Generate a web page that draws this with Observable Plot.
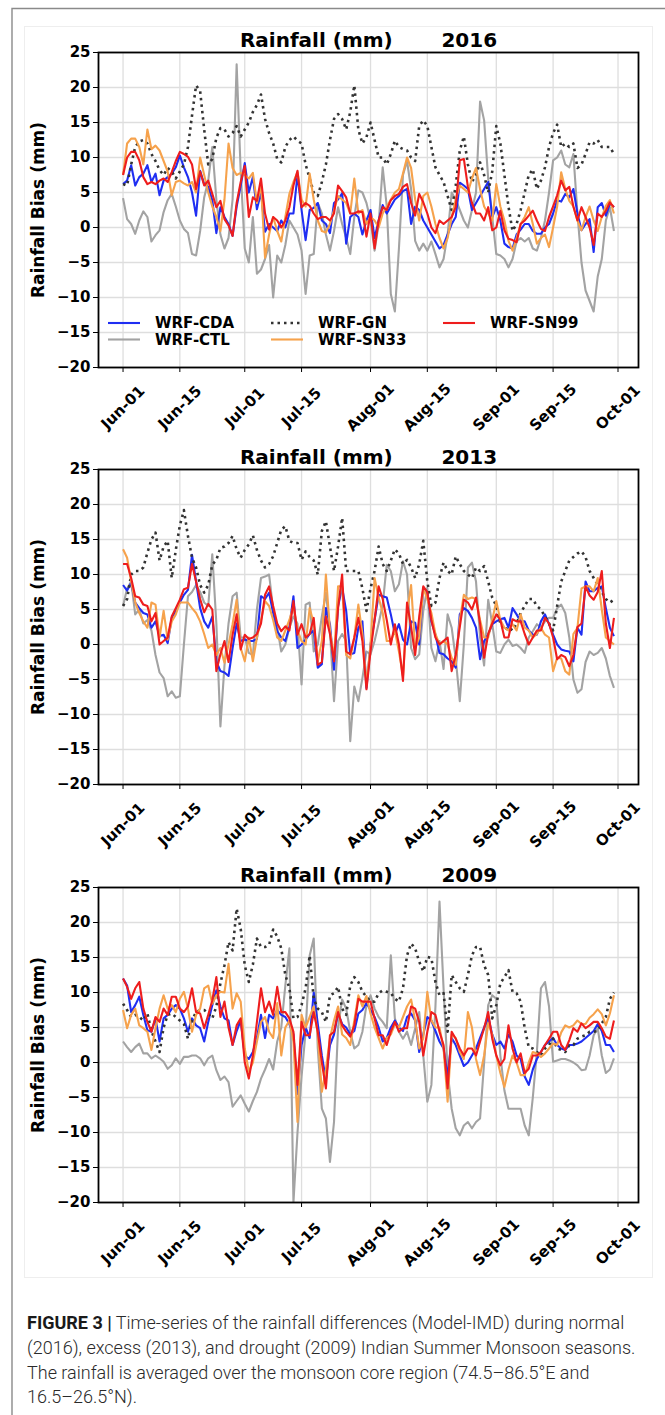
<!DOCTYPE html>
<html><head><meta charset="utf-8">
<script src="https://cdn.jsdelivr.net/npm/d3@7"></script>
<script src="https://cdn.jsdelivr.net/npm/@observablehq/plot@0.6"></script>
<style>
html,body{margin:0;padding:0;background:#fff;}
#fig{position:relative;width:665px;height:1415px;overflow:hidden;background:#fff;}
.abs{position:absolute;}
#cap{position:absolute;left:27px;top:1311px;width:636px;font-family:Roboto,"Liberation Sans",sans-serif;font-weight:300;font-size:18px;line-height:24.8px;color:#2a2a2a;white-space:nowrap;}
#cap b{font-weight:700;color:#1a1a1a;}
</style></head><body><div id="fig"></div>
<script>
// ---------- data ----------
const tickLabels = ["Jun-01","Jun-15","Jul-01","Jul-15","Aug-01","Aug-15","Sep-01","Sep-15","Oct-01"];
const yTicks = [-20,-15,-10,-5,0,5,10,15,20,25];
const seriesNames = ["WRF-CDA","WRF-CTL","WRF-GN","WRF-SN33","WRF-SN99"];
const years = ["2016","2013","2009"];

const CDA16 = [6.2,6.7,8.9,6.0,7.2,7.7,8.9,6.5,7.7,4.6, 6.7,7.2,7.7,8.6,10.3,8.6,7.2,5.0,1.7,8.1, 6.2,5.8,3.9,-0.8,2.9,1.5,0.5,-1.2,3.0,6.0, 9.2,5.0,7.2,2.6,5.0,-0.6,0.5,0.0,-0.5,1.0, 0.0,2.0,2.0,7.5,2.5,-1.8,2.5,2.8,3.5,1.0, 0.5,-0.8,3.5,4.0,4.9,-2.3,1.5,2.0,1.5,-1.0, 1.0,2.5,-1.5,1.0,3.2,2.0,3.0,4.0,4.5,5.2, 5.5,0.5,3.0,2.5,1.0,0.0,-1.0,-2.0,-3.0,-2.5, -1.0,0.5,1.5,6.4,6.0,5.5,2.5,3.5,4.5,5.5, 6.5,1.5,2.9,1.0,-2.3,-2.8,-3.0,-1.0,-0.3,0.5, 0.5,-0.5,-0.9,-0.9,0.0,0.5,2.0,3.9,3.7,4.8, 4.3,5.5,2.0,-0.4,0.5,1.2,-3.5,2.9,3.5,1.7, 3.4,2.9];
const CTL16 = [4.2,1.2,0.5,-0.9,1.0,2.3,1.5,-2.0,-1.1,-0.4, 2.2,3.9,4.8,3.0,1.0,-0.2,-0.8,-3.8,-4.0,-0.5, 4.3,6.7,11.5,4.0,-1.0,-3.0,-1.5,4.0,23.3,8.0, -3.0,-5.0,1.5,-6.6,-6.0,-4.5,-2.5,-10.0,-4.0,-5.0, -2.5,1.0,0.0,-1.0,-3.3,-9.5,-4.0,-3.8,3.5,2.0, -1.0,-3.3,-0.5,2.9,0.5,-1.5,-3.8,1.5,5.3,5.0, 3.5,1.0,-3.3,0.5,8.6,3.0,-9.5,-12.0,-3.0,7.5, 9.5,5.5,-1.9,-3.3,-2.3,-3.3,-2.0,-3.8,-5.7,-4.5, -1.0,5.0,4.0,2.5,1.0,0.0,2.5,5.0,18.0,15.3, 7.0,1.5,-3.8,-4.0,-4.5,-5.7,-4.5,-2.0,-1.5,-2.0, -1.5,-3.0,-3.3,-1.5,1.0,5.0,9.6,10.0,11.0,9.0, 8.6,10.5,2.0,-5.0,-9.0,-10.5,-12.0,-7.0,-4.5,1.0, 2.9,-0.5];
const GN16 = [6.2,6.0,9.0,11.5,12.3,12.5,12.0,10.5,9.5,8.2, 7.5,8.5,8.0,7.0,8.0,9.0,11.5,16.0,20.3,19.5, 14.0,9.0,9.8,12.8,14.2,14.0,13.0,13.5,14.5,13.0, 14.0,15.0,16.5,17.5,19.0,15.5,13.5,12.0,9.8,9.3, 11.5,12.5,13.0,12.4,12.0,9.0,7.0,5.0,4.5,6.5, 9.0,12.5,15.5,16.2,15.5,14.0,16.5,20.3,14.0,12.0, 12.9,15.0,12.5,10.0,10.0,9.0,10.5,12.4,11.5,11.2, 11.0,10.0,9.5,14.5,15.3,14.5,11.5,8.6,7.5,6.5, 4.5,2.5,6.0,11.0,13.0,9.0,6.5,7.5,9.3,7.5, 5.0,8.0,14.5,12.0,7.5,3.0,-0.5,0.5,2.5,5.0, 7.5,8.3,5.5,6.7,8.6,11.5,13.5,14.7,11.5,12.0, 11.5,12.0,8.5,9.0,10.5,12.2,12.0,12.5,11.5,11.5, 11.5,10.5];
const SN33_16 = [7.5,12.0,12.7,12.7,11.5,9.0,14.0,11.2,11.7,11.0, 9.5,8.0,4.6,6.5,6.7,6.3,6.0,6.5,5.0,10.0, 7.5,5.0,3.0,1.5,-0.5,4.0,12.0,8.5,7.5,7.8, 7.5,7.0,7.8,3.5,6.0,-4.3,-1.0,1.5,-0.5,-2.0, 1.5,4.8,6.5,7.9,4.0,3.0,7.7,4.0,1.0,-0.5, -0.7,0.5,2.5,4.5,4.0,3.5,2.0,7.0,2.0,2.5, 0.5,1.5,1.0,0.0,2.0,3.0,4.0,5.0,5.5,7.7, 10.0,8.5,4.0,1.0,4.5,5.0,3.0,0.5,-1.5,-3.0, -1.5,1.5,4.0,6.0,5.5,5.0,7.0,8.5,5.5,3.0, 2.0,1.0,6.2,3.0,1.0,-1.9,-3.3,-1.5,0.5,1.5, 2.9,0.5,-2.3,-1.5,-1.0,-2.8,0.0,3.0,7.9,5.5, 3.8,3.0,1.0,-0.4,1.5,3.0,1.0,-0.5,1.5,3.1, 3.9,2.0];
const SN99_16 = [7.5,10.0,10.8,10.8,9.6,7.2,6.2,6.5,6.2,6.7, 7.0,6.5,7.9,9.5,10.8,10.5,10.1,9.0,5.5,8.0, 6.0,6.7,4.8,2.9,3.8,1.2,0.3,-1.2,3.5,6.5, 8.8,1.5,4.3,3.8,7.0,2.0,-0.3,1.5,1.0,0.0, 1.0,2.9,6.0,8.1,2.9,3.5,3.1,2.0,1.2,1.5, 1.5,1.0,2.0,6.0,5.2,4.3,2.0,2.0,2.3,2.2, -1.3,2.0,-3.0,1.0,2.9,2.5,3.9,4.5,4.8,5.8, 6.2,3.5,1.7,4.8,3.6,2.0,0.0,-0.8,1.0,0.5, 1.0,1.5,2.9,9.6,9.8,5.8,3.5,2.0,2.0,1.0, 2.9,-0.4,0.0,2.4,-0.4,-1.6,-1.8,-2.1,0.5,1.0, 1.7,2.4,1.0,-0.2,-0.5,1.5,3.0,4.6,6.7,5.3, 5.8,3.0,1.0,2.9,1.5,0.0,-2.5,2.0,1.5,2.4, 3.6,2.9];

const CDA13 = [8.5,7.7,8.8,6.0,5.2,4.5,4.3,2.4,3.3,1.2, 1.4,0.2,3.8,4.8,6.0,7.1,7.8,12.8,9.0,5.2, 3.3,2.4,4.0,-2.4,-3.8,-4.0,-4.5,-0.5,3.0,0.5, 0.7,0.5,0.5,0.8,6.9,6.5,7.4,4.5,1.9,1.0, 0.5,2.5,6.9,-0.5,0.0,0.7,1.5,2.0,-3.3,-2.8, 5.2,2.9,-3.6,5.5,8.1,4.8,-1.4,-1.2,2.4,3.3, -6.2,0.0,3.5,7.1,6.9,6.7,4.3,1.5,2.9,0.7, 0.0,3.3,3.1,0.0,8.1,7.5,3.3,1.4,-1.2,-1.4, -2.0,-2.4,-3.3,4.3,5.2,4.8,3.8,2.4,-2.1,0.5, 1.4,2.9,3.3,3.6,3.8,2.4,5.2,4.3,3.3,3.3, 2.0,1.4,1.4,3.3,4.3,2.9,1.4,0.0,-0.7,-0.9, -1.0,-2.4,2.4,1.4,9.0,7.6,7.6,8.1,8.3,5.2, 2.4,1.2];
const CTL13 = [5.5,8.0,9.0,4.3,5.0,3.0,3.5,2.0,-1.5,-4.0, -4.8,-7.4,-6.7,-7.6,-7.4,0.0,6.9,7.5,8.5,7.5, 6.0,5.5,12.9,3.0,-11.7,-3.0,3.0,6.9,7.4,1.0, 1.0,-1.2,-1.5,5.0,9.5,9.7,10.0,5.0,2.5,-1.0, 0.0,2.4,4.0,3.0,-5.7,5.7,6.0,-1.0,0.0,4.0, 7.4,2.0,-8.1,0.5,1.5,0.5,-13.8,-6.0,-8.1,-4.8, -1.0,-1.4,0.5,3.0,5.7,11.4,10.5,7.6,8.6,11.9, 10.0,-0.5,-2.1,-1.4,4.8,8.1,-0.5,-2.4,0.5,-3.5, 4.3,2.4,-2.0,-8.1,0.0,11.0,11.7,9.0,1.0,-3.0, 6.4,2.9,-1.0,-1.2,0.0,0.7,-0.2,0.0,-0.5,-1.2, 1.0,1.9,2.9,2.4,3.3,3.8,3.8,5.2,5.7,4.5, 1.0,-5.0,-6.9,-6.4,-2.5,-1.0,-1.5,-1.2,-0.5,-2.0, -4.5,-6.2];
const GN13 = [5.5,6.5,10.0,10.5,10.5,11.0,13.1,15.0,16.0,12.0, 14.0,14.8,9.5,13.5,17.0,19.2,15.5,12.4,11.0,8.5, 7.4,8.5,11.4,12.1,13.8,14.0,14.5,15.5,13.6,12.4, 13.5,14.3,15.6,13.5,12.0,11.0,11.5,12.6,14.5,16.4, 16.9,14.8,14.5,14.5,12.1,13.3,12.5,12.0,10.0,16.2, 17.6,14.0,10.5,14.0,18.1,10.5,10.5,10.5,10.5,8.0, 4.8,8.0,10.5,14.0,11.5,10.5,12.0,13.6,13.0,11.5, 12.1,11.0,9.5,11.5,14.8,9.0,5.5,6.0,9.5,11.7, 10.5,10.0,12.6,11.5,10.5,10.0,9.5,11.0,10.5,11.2, 9.0,6.7,5.5,3.0,2.0,2.5,2.0,3.0,4.5,5.5, 6.5,6.5,5.5,5.0,4.0,3.0,2.0,5.5,9.0,10.5, 12.0,12.5,13.0,13.3,12.5,10.5,9.5,8.5,7.5,6.5, 6.0,6.4];
const SN33_13 = [13.6,12.4,9.0,6.0,4.5,3.3,2.4,6.0,5.7,1.0, 4.8,0.7,3.3,4.3,6.0,6.0,6.0,5.2,4.5,3.3, 1.5,-0.5,0.0,-1.5,-0.5,-2.6,0.0,2.9,6.4,-0.5, -2.4,1.0,-2.4,1.0,3.5,6.2,5.5,3.5,1.0,0.5, 2.0,3.5,5.5,2.0,0.5,0.0,5.2,3.0,-2.4,0.5, 10.0,2.0,-2.0,8.3,8.3,-1.5,-2.0,1.0,5.7,1.5, -5.7,0.0,9.5,6.7,4.5,0.5,0.5,2.0,-1.0,-4.5, 4.5,8.5,-0.5,1.0,8.1,6.5,4.5,1.5,0.0,0.5, 0.0,-1.9,-2.9,3.5,7.1,6.5,6.7,6.5,3.5,1.0, 1.0,3.5,6.2,3.5,2.4,2.0,2.9,2.0,4.3,2.4, 2.0,1.0,1.5,2.4,1.4,1.0,-3.8,-1.9,-2.0,-3.8, -4.3,1.5,2.4,8.0,8.3,8.3,7.6,9.5,5.0,1.0, 0.5,0.0];
const SN99_13 = [11.5,11.5,9.5,6.9,6.7,5.7,5.5,3.3,4.5,0.0, 0.5,1.0,4.0,5.2,6.4,7.9,8.1,11.5,9.0,6.5, 4.6,5.8,5.0,-3.8,-1.4,0.5,-2.5,1.4,4.3,-0.7, 1.4,0.8,1.0,1.5,3.0,7.1,8.3,5.5,3.0,1.9, 2.6,2.0,6.2,1.4,2.9,1.0,1.5,3.8,-2.9,-2.5, 4.0,1.5,-2.4,5.2,10.0,-1.0,-1.4,1.0,3.8,0.5, -6.4,-1.0,3.5,8.3,6.5,3.5,0.0,2.9,0.0,-5.2, 6.0,2.5,-1.5,4.0,8.3,7.5,3.5,1.0,0.0,0.5, 1.0,-3.8,-1.5,2.5,6.4,6.0,5.0,6.7,3.0,-1.9, 1.5,3.0,4.3,3.5,1.0,1.0,3.6,3.3,3.3,1.5, 0.0,1.0,2.0,2.0,3.8,3.0,1.0,-2.1,-1.5,-1.8, -3.1,-1.5,2.5,3.0,8.3,7.0,6.4,7.5,10.5,3.0, -0.5,3.8];

const CDA09 = [12.0,11.0,7.2,8.2,9.4,6.8,4.6,4.4,6.3,3.0, 6.3,6.8,7.7,8.2,7.7,6.3,4.4,6.3,5.3,4.9, 3.0,5.8,8.2,10.3,8.0,6.3,6.0,2.5,4.5,6.0, 1.0,0.5,1.5,3.5,6.8,3.5,6.8,6.3,7.5,6.8, 6.5,5.5,4.0,-4.5,2.5,5.0,3.5,10.0,5.5,1.0, -2.5,2.5,4.0,7.0,5.5,5.0,4.0,4.5,7.0,7.5, 8.5,7.5,6.5,5.0,3.0,3.5,5.0,6.0,5.0,4.5, 6.5,7.0,6.0,1.5,4.0,6.5,6.0,4.5,3.0,2.0, -2.0,3.5,2.5,1.0,-0.5,0.0,1.0,2.0,3.5,5.0, 6.5,4.0,2.5,3.0,2.0,4.0,3.0,1.0,0.5,-2.0, -3.2,-1.0,0.5,1.5,2.5,3.0,3.5,2.5,2.0,1.8, 2.5,2.5,2.7,3.0,3.5,4.0,4.5,5.5,4.5,2.5, 2.5,1.5];
const CTL09 = [3.0,2.2,1.5,2.2,2.7,1.3,1.3,0.6,1.0,0.6, 0.1,-0.9,-0.4,0.6,-0.2,0.8,0.8,1.0,1.0,0.6, -0.4,0.6,1.0,-1.1,-2.5,-2.0,-2.8,-6.3,-5.5,-4.7, -5.9,-7.0,-5.5,-4.2,-2.3,-1.0,0.5,-1.0,3.0,5.0, 11.0,16.3,-20.0,-10.0,-2.0,4.4,15.3,17.7,2.0,-6.6, -8.0,-14.2,-8.5,5.0,9.0,7.7,4.4,2.0,2.5,4.4, 8.2,9.6,7.7,6.5,5.8,4.9,15.3,6.3,4.4,3.4, 4.4,2.5,4.9,7.2,1.0,-5.6,-3.2,8.0,23.0,10.6, -1.3,-6.6,-9.4,-10.4,-9.0,-8.5,-9.4,-8.5,-8.0,0.0, 8.2,9.6,9.1,1.0,-4.0,-6.6,-6.6,-6.6,-6.6,-9.0, -10.4,-5.0,1.5,10.6,11.5,8.0,0.1,0.3,0.5,0.5, 0.3,0.0,-0.4,-1.1,-1.0,1.0,3.9,4.9,1.0,-1.5, -1.0,0.6];
const GN09 = [8.4,7.5,6.5,6.8,6.5,6.0,7.0,4.5,3.0,1.5, 5.0,6.8,7.0,6.5,6.0,5.5,3.4,6.0,7.2,7.5, 7.5,7.0,6.3,8.0,11.3,13.9,17.2,16.0,22.0,19.1, 13.9,11.5,14.0,17.7,16.5,16.5,16.8,19.0,18.0,16.3, 12.5,10.6,6.3,6.5,8.2,10.6,15.3,9.1,7.7,7.2, 5.8,9.6,9.9,10.8,7.7,6.8,11.0,12.2,11.5,10.1, 9.4,8.7,8.7,9.9,10.3,10.1,9.9,9.1,8.7,10.6, 15.3,17.0,16.3,14.4,13.0,15.1,14.9,11.5,9.6,9.9, 4.4,12.5,11.5,10.6,10.1,12.5,15.3,16.5,16.5,13.9, 12.5,6.3,8.2,11.3,12.2,13.2,10.1,9.9,8.7,4.9, 2.2,2.0,1.5,1.0,2.0,2.5,3.4,2.0,1.8,1.5, 2.5,2.5,3.4,3.7,3.9,4.4,4.4,4.5,5.6,6.5, 9.1,10.0];
const SN33_09 = [7.5,4.9,6.8,7.7,5.3,4.9,4.4,1.8,4.9,7.7, 9.6,7.7,8.2,7.2,9.1,10.1,7.7,4.4,6.8,7.7, 10.6,11.0,8.4,9.6,10.1,10.0,14.1,7.7,9.9,8.7, 2.0,-1.3,0.0,3.0,5.8,6.5,4.4,3.5,8.5,1.0, 5.0,6.0,3.0,-8.5,6.8,5.0,6.5,8.0,4.0,-4.2, -1.0,3.5,6.0,8.0,4.0,3.5,2.5,6.0,9.6,8.0, 9.5,7.0,5.0,3.5,2.0,3.5,4.0,5.5,5.0,6.5, 8.0,9.0,6.0,2.0,3.5,10.1,6.0,5.0,5.0,2.0, -5.6,4.0,3.5,1.5,0.5,7.2,5.0,0.5,-1.8,1.0, 5.6,4.0,1.0,-1.5,-3.5,-1.0,1.0,0.0,-1.8,-1.8, 0.0,1.5,1.3,0.8,1.3,2.0,2.7,2.5,4.3,5.3, 5.0,5.3,6.0,5.5,5.5,6.4,6.9,7.6,6.9,5.3, 7.0,9.6];
const SN99_09 = [12.0,10.8,9.1,10.6,11.5,7.7,5.8,4.4,6.5,5.8, 7.7,6.8,9.4,9.4,7.7,7.2,8.0,10.6,7.2,7.0, 4.9,6.8,8.9,12.2,6.5,8.7,5.0,2.5,5.3,6.3, 0.0,-2.3,1.0,5.8,10.6,7.2,8.7,6.8,10.8,7.2, 7.2,6.3,4.4,-3.2,5.8,3.9,3.9,7.2,4.4,0.0, -3.7,3.9,4.4,7.2,5.3,4.4,3.7,5.3,9.1,8.7, 8.7,8.7,6.3,3.9,3.9,2.5,4.4,5.8,4.4,4.9, 4.9,8.0,7.7,5.8,1.0,4.4,7.2,6.8,4.4,2.5, -3.7,4.4,3.4,2.0,1.0,2.0,2.0,1.0,3.0,4.9, 7.2,3.4,1.0,-0.4,0.5,5.3,2.0,0.0,1.3,-1.5, -0.9,1.0,1.0,1.5,2.5,3.4,4.4,4.4,2.5,1.8, 3.2,4.9,4.4,5.6,4.9,5.3,5.8,5.8,4.9,3.7, 3.4,6.0];

// ---------- build ----------
const DAY = 864e5;
const start = Date.UTC(2016, 5, 1);
const monthIdx = {Jun:5, Jul:6, Aug:7, Sep:8, Oct:9};
const tickDates = tickLabels.map(s => new Date(Date.UTC(2016, monthIdx[s.slice(0,3)], +s.slice(4))));
const xDomain = [new Date(start - 6.05*DAY), new Date(start + (121 + 6.05)*DAY)];

const panels = [
  {year: years[0], top: 0,     data: {"WRF-CDA":CDA16,"WRF-CTL":CTL16,"WRF-GN":GN16,"WRF-SN33":SN33_16,"WRF-SN99":SN99_16}},
  {year: years[1], top: 417.3, data: {"WRF-CDA":CDA13,"WRF-CTL":CTL13,"WRF-GN":GN13,"WRF-SN33":SN33_13,"WRF-SN99":SN99_13}},
  {year: years[2], top: 834.7, data: {"WRF-CDA":CDA09,"WRF-CTL":CTL09,"WRF-GN":GN09,"WRF-SN33":SN33_09,"WRF-SN99":SN99_09}}
];

const styles = {
  "WRF-CDA":  {stroke:"#1f2ef2", width:2.1},
  "WRF-CTL":  {stroke:"#a3a3a3", width:2.1},
  "WRF-GN":   {stroke:"#333333", width:2.6, dash:"2.5,4"},
  "WRF-SN33": {stroke:"#f6a24c", width:2.1},
  "WRF-SN99": {stroke:"#ee1d1d", width:2.1}
};
const drawOrder = ["WRF-CTL","WRF-CDA","WRF-GN","WRF-SN33","WRF-SN99"];

const fig = document.getElementById("fig");

// outer page border and figure edge
const deco = d3.select(fig).append("svg").attr("class","abs").style("left","0px").style("top","0px")
  .attr("width",665).attr("height",1415);
deco.append("rect").attr("x",24.5).attr("y",26.5).attr("width",628).attr("height",1251).attr("fill","none").attr("stroke","#eeeeee").attr("stroke-width",1);
deco.append("path").attr("d","M12,1415 V8.5 H665").attr("fill","none").attr("stroke","#8a8a8a").attr("stroke-width",1.4);

const MT = 52, PH = 315, MB = 80;
for (const p of panels) {
  const marks = [
    Plot.gridX({ticks: tickDates, stroke:"#dedede", strokeOpacity:1, strokeWidth:1.3}),
    Plot.gridY({ticks: yTicks, stroke:"#dedede", strokeOpacity:1, strokeWidth:1.3})
  ];
  for (const k of drawOrder) {
    const s = styles[k];
    const rows = p.data[k].map((v,i) => ({date: new Date(start + i*DAY), value: v}));
    marks.push(Plot.line(rows, {x:"date", y:"value", stroke:s.stroke, strokeWidth:s.width,
      strokeDasharray:s.dash, strokeLinejoin:"round", strokeLinecap:"butt", clip:true}));
  }
  marks.push(Plot.frame({stroke:"#000", strokeWidth:1.8}));
  marks.push(Plot.axisY({ticks:yTicks, tickSize:5, tickPadding:3, label:null, tickFormat:d3.format("d"), fontSize:15, fontWeight:"bold"}));
  marks.push(Plot.axisX({ticks:tickDates, tickSize:5, tickFormat:() => "", label:null}));
  marks.push(Plot.text(tickDates, {x:d => d, text:(d,i) => tickLabels[i], frameAnchor:"bottom", dy:40, rotate:-45,
    textAnchor:"middle", lineAnchor:"middle", fontSize:15, fontWeight:"bold", fill:"#000"}));
  marks.push(Plot.text(["Rainfall (mm)\u00a0\u00a0\u00a0\u00a0\u00a0\u00a0\u00a0" + p.year], {frameAnchor:"top", dy:-12,
    lineAnchor:"middle", textAnchor:"middle", fontSize:20, fontWeight:"bold", fill:"#000"}));
  marks.push(Plot.text(["Rainfall Bias (mm)"], {frameAnchor:"left", dx:-60, rotate:-90, textAnchor:"middle",
    lineAnchor:"middle", fontSize:17, fontWeight:"bold", fill:"#000"}));

  const svg = Plot.plot({
    width:665, height:MT+PH+MB, marginTop:MT, marginBottom:MB, marginLeft:98, marginRight:27,
    x:{type:"utc", domain:xDomain},
    y:{domain:[-20,25]},
    style:{fontFamily:"DejaVu Sans", fontSize:"15px", fontWeight:"bold", color:"#000", background:"transparent", overflow:"visible"},
    marks
  });
  svg.style.position = "absolute";
  svg.style.left = "0px";
  svg.style.top = p.top + "px";
  fig.appendChild(svg);
}

// legend (panel 1)
const legendPos = {
  "WRF-CDA":[108,155,323], "WRF-CTL":[108,155,339.5],
  "WRF-GN":[271,318,323],  "WRF-SN33":[271,318,339.5],
  "WRF-SN99":[443,490,323]
};
const leg = d3.select(fig).append("svg").attr("class","abs").style("left","0px").style("top","0px")
  .attr("width",665).attr("height",440);
for (const k of seriesNames) {
  const [hx, tx, y] = legendPos[k];
  const s = styles[k];
  leg.append("line").attr("x1",hx).attr("x2",hx+32).attr("y1",y).attr("y2",y)
    .attr("stroke",s.stroke).attr("stroke-width",s.width).attr("stroke-dasharray",s.dash||null);
  leg.append("text").attr("x",tx).attr("y",y).attr("dy","0.36em").text(k)
    .attr("font-family","DejaVu Sans").attr("font-weight","bold").attr("font-size",15).attr("fill","#000");
}

// caption
const cap = document.createElement("div");
cap.id = "cap";
cap.innerHTML = "<b>FIGURE 3 |</b> Time-series of the rainfall differences (Model-IMD) during normal<br>(2016), excess (2013), and drought (2009) Indian Summer Monsoon seasons.<br>The rainfall is averaged over the monsoon core region (74.5–86.5°E and<br>16.5–26.5°N).";
fig.appendChild(cap);
</script>
</body></html>
